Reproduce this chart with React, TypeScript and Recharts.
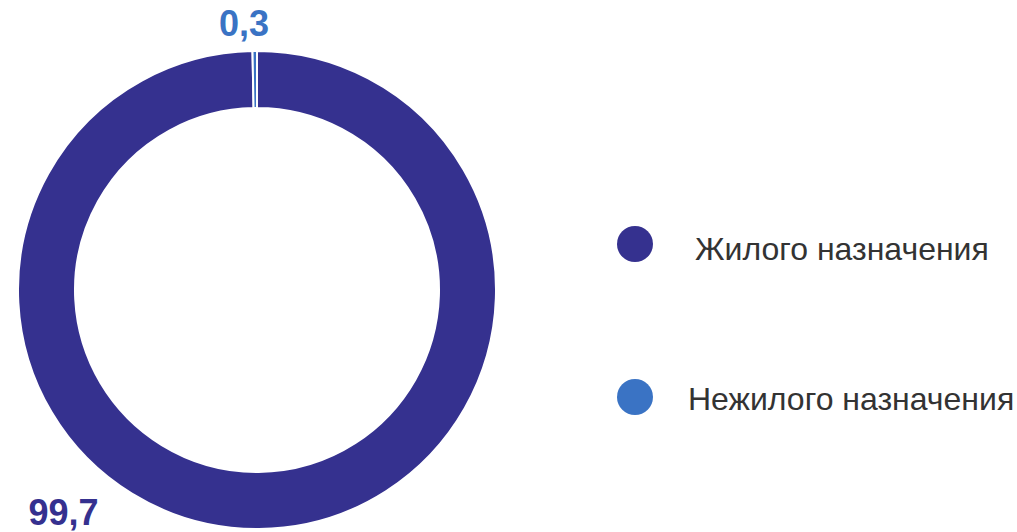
import { PieChart, Pie, Cell, Customized } from "recharts";

const CATEGORIES = ["Жилого назначения", "Нежилого назначения"];
const VALUES = [99.7, 0.3];
const VALUE_LABELS = ["99,7", "0,3"];
const COLORS = ["#35318f", "#3a73c4"];

// label placement: angle (deg) and distance past the outer radius
const LABEL_POS = [
  { angle: 229, extra: 56 },
  { angle: 92.8, extra: 28 },
];
// legend rows: circle centre + text start / baseline
const LEGEND_ROWS = [
  { cx: 635, cy: 244, tx: 695, ty: 260 },
  { cx: 635, cy: 397, tx: 688, ty: 410 },
];

const data = CATEGORIES.map((name, i) => ({ name, value: VALUES[i] }));

const RADIAN = Math.PI / 180;

function renderLabel(props: any) {
  const { cx, cy, outerRadius, index } = props;
  const p = LABEL_POS[index];
  const r = outerRadius + p.extra;
  const x = cx + r * Math.cos(p.angle * RADIAN);
  const y = cy - r * Math.sin(p.angle * RADIAN);
  return (
    <text
      x={x}
      y={y}
      fill={COLORS[index]}
      textAnchor="middle"
      dominantBaseline="central"
      fontSize={36}
      fontWeight="bold"
      fontFamily="'Liberation Sans', Arial, sans-serif"
    >
      {VALUE_LABELS[index]}
    </text>
  );
}

function LegendBlock() {
  return (
    <g>
      {CATEGORIES.map((name, i) => (
        <g key={name}>
          <circle cx={LEGEND_ROWS[i].cx} cy={LEGEND_ROWS[i].cy} r={18} fill={COLORS[i]} />
          <text
            x={LEGEND_ROWS[i].tx}
            y={LEGEND_ROWS[i].ty}
            fill="#333333"
            fontSize={32}
            fontFamily="'Liberation Sans', Arial, sans-serif"
          >
            {name}
          </text>
        </g>
      ))}
    </g>
  );
}

export default function App() {
  return (
    <div style={{ position: "absolute", left: 0, top: 0, background: "#fff" }}>
      <PieChart width={1017} height={532} margin={{ top: 0, right: 0, bottom: 0, left: 0 }}>
        <Pie
          data={data}
          dataKey="value"
          nameKey="name"
          cx={257}
          cy={290}
          innerRadius={182}
          outerRadius={239}
          startAngle={90}
          endAngle={-270}
          stroke="#ffffff"
          strokeWidth={2}
          label={renderLabel}
          labelLine={false}
          isAnimationActive={false}
        >
          {data.map((d, i) => (
            <Cell key={d.name} fill={COLORS[i]} />
          ))}
        </Pie>
        <Customized component={LegendBlock} />
      </PieChart>
    </div>
  );
}
